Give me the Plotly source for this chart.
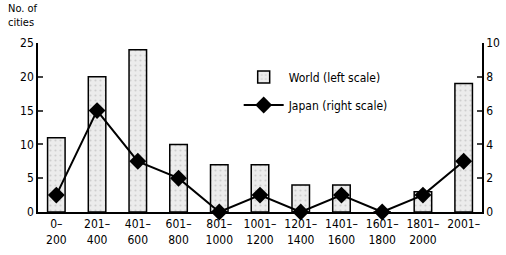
import plotly.graph_objects as go

categories = ["0–<br>200", "201–<br>400", "401–<br>600", "601–<br>800", "801–<br>1000",
              "1001–<br>1200", "1201–<br>1400", "1401–<br>1600", "1601–<br>1800",
              "1801–<br>2000", "2001–<br> "]
world = [11, 20, 24, 10, 7, 7, 4, 4, 0, 3, 19]
japan = [1, 6, 3, 2, 0, 1, 0, 1, 0, 1, 3]
left_ticks = [0, 5, 10, 15, 20, 25]
right_ticks = [0, 2, 4, 6, 8, 10]

FONT = "DejaVu Sans Condensed, Liberation Sans Narrow, Arial Narrow, sans-serif"

fig = go.Figure()
fig.add_trace(go.Bar(
    x=categories, y=world, name="World (left scale)", legendgroup="w",
    width=0.43,
    marker=dict(color="#e4e4e4", line=dict(color="black", width=1.5),
                pattern=dict(shape=".", fgcolor="#b0b0b0", bgcolor="#ececec", size=5, solidity=0.15)),
))
fig.add_trace(go.Scatter(
    x=categories, y=japan, name="Japan (right scale)", yaxis="y2", legendgroup="j",
    mode="lines+markers",
    line=dict(color="black", width=2),
    marker=dict(symbol="diamond", size=13, color="black"),
    cliponaxis=False,
))

fig.update_layout(
    width=506, height=255,
    margin=dict(l=38, r=24, t=43, b=43, autoexpand=False),
    paper_bgcolor="white", plot_bgcolor="white",
    font=dict(family=FONT, size=12, color="black"),
    showlegend=True,
    legend=dict(x=0.452, y=0.885, xanchor="left", yanchor="top",
                bgcolor="rgba(0,0,0,0)", font=dict(size=12), tracegroupgap=9,
                itemwidth=40),
    xaxis=dict(range=[-0.45, 10.45], showline=True, linecolor="black", linewidth=1.5,
               ticks="", showgrid=False, tickfont=dict(size=12), automargin=False),
    yaxis=dict(range=[0, 25], tickvals=left_ticks, showline=True, linecolor="black",
               linewidth=1.5, ticks="inside", ticklen=5, tickwidth=1.5,
               showgrid=False, zeroline=False, tickfont=dict(size=12), automargin=False),
    yaxis2=dict(range=[0, 10], tickvals=right_ticks, overlaying="y", side="right",
                showline=True, linecolor="black", linewidth=1.5, ticks="inside",
                ticklen=5, tickwidth=1.5, showgrid=False, zeroline=False,
                tickfont=dict(size=12), automargin=False),
    annotations=[dict(text="No. of<br>cities", x=0, y=1, xref="paper", yref="paper",
                      xanchor="left", yanchor="bottom", xshift=-32, yshift=12,
                      showarrow=False, align="left", font=dict(size=11))],
)

fig.write_html("out.html", config={"displayModeBar": False},
               post_script="document.body.style.margin='0';")
